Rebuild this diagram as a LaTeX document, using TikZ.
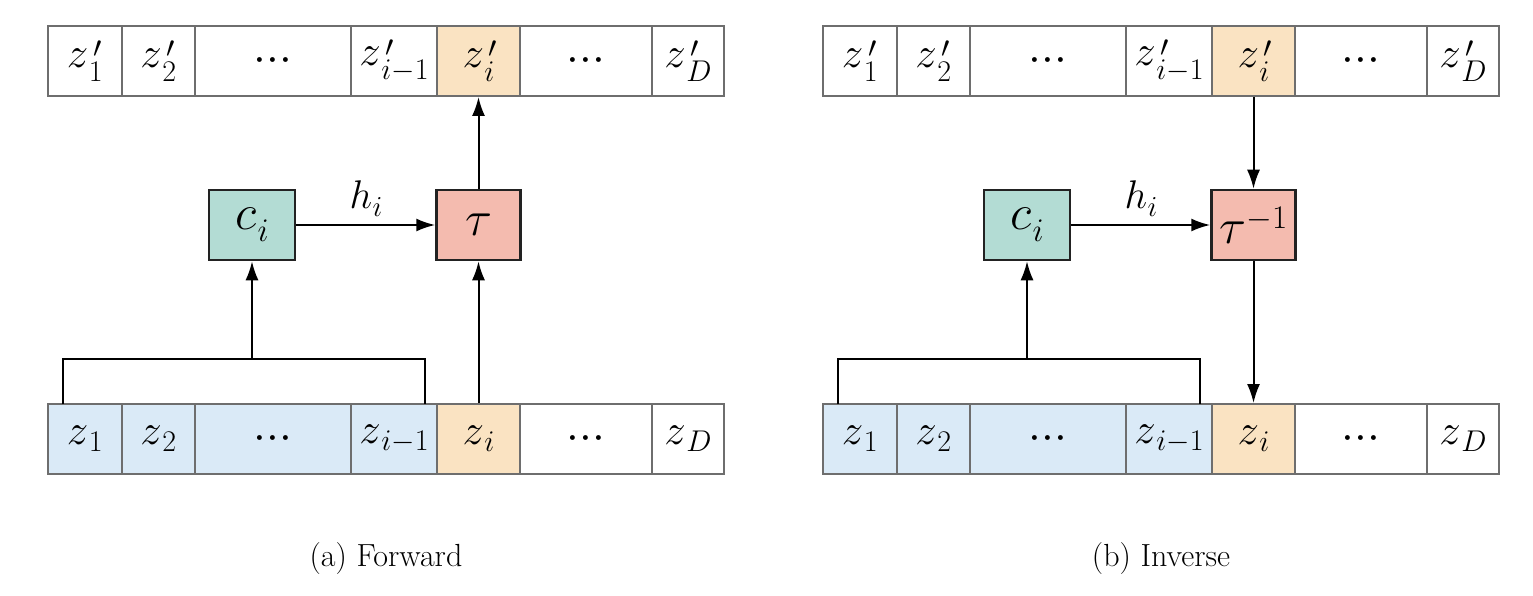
\RequirePackage{fix-cm}
\documentclass[tikz,border=0pt]{standalone}
\usetikzlibrary{arrows.meta}
\definecolor{cellgray}{HTML}{6E6E6E}
\definecolor{bluecell}{HTML}{DAEAF7}
\definecolor{orangecell}{HTML}{FAE3C2}
\definecolor{tealbox}{HTML}{B3DCD4}
\definecolor{salmonbox}{HTML}{F4BBAF}
\definecolor{boxline}{HTML}{222222}
\newcommand{\scr}{\fontsize{30}{30}\selectfont}
\newcommand{\zsub}[1]{$z$\kern.5pt\raisebox{-7pt}{\scr$#1$}}
\newcommand{\zpsub}[1]{$z$\kern.5pt\rlap{\kern4.5pt\raisebox{9.5pt}{\scr$\prime$}}\raisebox{-14pt}{\scr$#1$}}
\newcommand{\rowdots}{{\fontsize{46}{48}\selectfont${\cdotp}{\cdotp}{\cdotp}$}}
\newcommand{\im}{i{-}1}
\newcommand{\hlab}{{\fontsize{40}{44}\selectfont$h$\kern.5pt\raisebox{-8pt}{\fontsize{29}{29}\selectfont$i$}}}
\newcommand{\clab}{$c$\kern1pt\raisebox{-12pt}{\fontsize{33}{33}\selectfont$i$}}
\tikzset{
  cell/.style={draw=cellgray, line width=2pt, minimum height=70pt, inner sep=0pt, anchor=center},
  opbox/.style={draw=boxline, line width=2.5pt, minimum height=70pt, inner sep=0pt,
                font=\fontsize{50}{56}\selectfont},
  arr/.style={-{Latex[length=19pt,width=13pt]}, line width=2pt},
  plainline/.style={line width=2pt},
  caption/.style={font=\fontsize{32}{38}\selectfont, inner sep=0pt}
}
\begin{document}
\begin{tikzpicture}[x=1pt,y=-1pt,font=\fontsize{43}{48}\selectfont]
\useasboundingbox (0,0) rectangle (1533,596);

% ---------- Forward ----------
\node[cell, minimum width=73.5pt] (ft1) at (84.75,61) {\zpsub{1}};
\node[cell, minimum width=73.5pt] (ft2) at (158.25,61) {\zpsub{2}};
\node[cell, minimum width=156pt]  (ft3) at (273,61) {\rowdots};
\node[cell, minimum width=86pt]   (ft4) at (394,61) {\zpsub{\im}};
\node[cell, minimum width=83pt, fill=orangecell] (ft5) at (478.5,61) {\zpsub{i}};
\node[cell, minimum width=132pt]  (ft6) at (586,61) {\rowdots};
\node[cell, minimum width=72pt]   (ft7) at (688,61) {\zpsub{D}};

\node[cell, minimum width=73.5pt, fill=bluecell] (fb1) at (84.75,439) {\zsub{1}};
\node[cell, minimum width=73.5pt, fill=bluecell] (fb2) at (158.25,439) {\zsub{2}};
\node[cell, minimum width=156pt, fill=bluecell]  (fb3) at (273,439) {\rowdots};
\node[cell, minimum width=86pt, fill=bluecell]   (fb4) at (394,439) {\zsub{\im}};
\node[cell, minimum width=83pt, fill=orangecell] (fb5) at (478.5,439) {\zsub{i}};
\node[cell, minimum width=132pt]  (fb6) at (586,439) {\rowdots};
\node[cell, minimum width=72pt]   (fb7) at (688,439) {\zsub{D}};

\node[opbox, fill=tealbox, minimum width=86pt] (fc) at (252,225) {\clab};
\node[opbox, fill=salmonbox, minimum width=84pt] (ftau) at (478.5,225) {$\tau$};

\coordinate (fbl) at (63,404);
\coordinate (fbr) at (425,404);
\draw[plainline] (fbl) |- (425,359) -- (fbr);
\coordinate (fbm) at (fc.south |- 0,359);
\draw[arr] (fbm) -- (fc.south);
\draw[arr] (fb5.north) -- (ftau.south);
\draw[arr] (ftau.north) -- (ft5.south);
\draw[arr] (fc.east) -- (ftau.west);
\node (fh) at (366,199) {\hlab};

\node[caption] (fcap) at (386,559) {(a) Forward};

% ---------- Inverse ----------
\node[cell, minimum width=73.5pt] (it1) at (859.75,61) {\zpsub{1}};
\node[cell, minimum width=73.5pt] (it2) at (933.25,61) {\zpsub{2}};
\node[cell, minimum width=156pt]  (it3) at (1048,61) {\rowdots};
\node[cell, minimum width=86pt]   (it4) at (1169,61) {\zpsub{\im}};
\node[cell, minimum width=83pt, fill=orangecell] (it5) at (1253.5,61) {\zpsub{i}};
\node[cell, minimum width=132pt]  (it6) at (1361,61) {\rowdots};
\node[cell, minimum width=72pt]   (it7) at (1463,61) {\zpsub{D}};

\node[cell, minimum width=73.5pt, fill=bluecell] (ib1) at (859.75,439) {\zsub{1}};
\node[cell, minimum width=73.5pt, fill=bluecell] (ib2) at (933.25,439) {\zsub{2}};
\node[cell, minimum width=156pt, fill=bluecell]  (ib3) at (1048,439) {\rowdots};
\node[cell, minimum width=86pt, fill=bluecell]   (ib4) at (1169,439) {\zsub{\im}};
\node[cell, minimum width=83pt, fill=orangecell] (ib5) at (1253.5,439) {\zsub{i}};
\node[cell, minimum width=132pt]  (ib6) at (1361,439) {\rowdots};
\node[cell, minimum width=72pt]   (ib7) at (1463,439) {\zsub{D}};

\node[opbox, fill=tealbox, minimum width=86pt] (ic) at (1027,225) {\clab};
\node[opbox, fill=salmonbox, minimum width=84pt] (itau) at (1253.5,225)
  {$\tau$\raisebox{15pt}{\fontsize{33}{33}\selectfont${-}1$}};

\coordinate (ibl) at (838,404);
\coordinate (ibr) at (1200,404);
\draw[plainline] (ibl) |- (1200,359) -- (ibr);
\coordinate (ibm) at (ic.south |- 0,359);
\draw[arr] (ibm) -- (ic.south);
\draw[arr] (it5.south) -- (itau.north);
\draw[arr] (itau.south) -- (ib5.north);
\draw[arr] (ic.east) -- (itau.west);
\node (ih) at (1141,199) {\hlab};

\node[caption] (icap) at (1161,559) {(b) Inverse};
\end{tikzpicture}
\end{document}
